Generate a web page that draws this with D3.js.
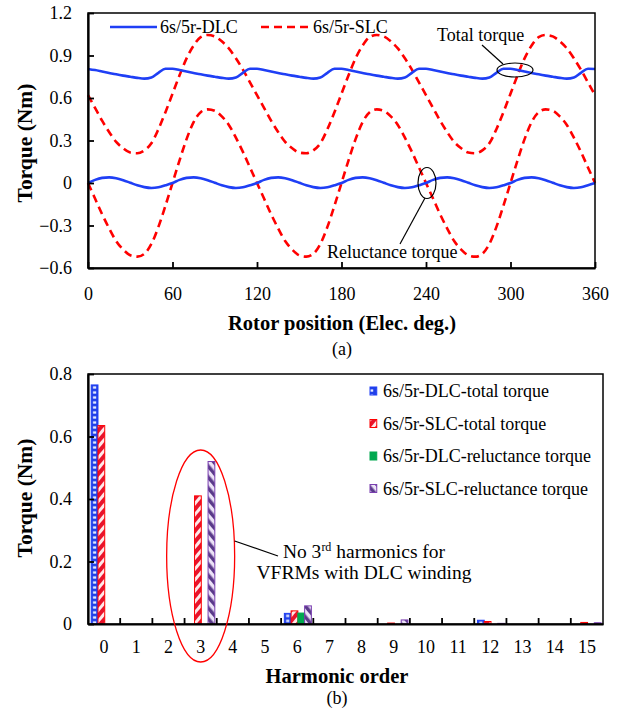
<!DOCTYPE html>
<html lang="en">
<head>
<meta charset="UTF-8">
<title>Torque waveforms and harmonics</title>
<script src="https://d3js.org/d3.v7.min.js"></script>
<style>
  body { margin: 0; background: #fff; }
  text { font-family: "Liberation Serif", "Times New Roman", serif; fill: #000; }
</style>
</head>
<body>
<svg id="chart" width="627" height="713"></svg>
<script>
// ---- (a) torque waveforms, sampled every 5 elec. deg ----
var angles = d3.range(0, 361, 5);

var dlcTotal = [
  0.805, 0.797, 0.787, 0.777, 0.767, 0.758, 0.750, 0.742, 0.737, 0.745, 0.778, 0.806,
  0.807, 0.797, 0.787, 0.777, 0.767, 0.758, 0.750, 0.742, 0.737, 0.745, 0.778, 0.806,
  0.807, 0.797, 0.787, 0.777, 0.767, 0.758, 0.750, 0.742, 0.737, 0.745, 0.778, 0.806,
  0.807, 0.797, 0.787, 0.777, 0.767, 0.758, 0.750, 0.742, 0.737, 0.745, 0.778, 0.806,
  0.807, 0.797, 0.787, 0.777, 0.767, 0.758, 0.750, 0.742, 0.737, 0.745, 0.778, 0.806,
  0.807, 0.797, 0.787, 0.777, 0.767, 0.758, 0.750, 0.742, 0.737, 0.745, 0.778, 0.806,
  0.805];
var dlcRel = [
  0, 0.022, 0.036, 0.040, 0.034, 0.020, 0.002, -0.016, -0.029, -0.035, -0.030, -0.016,
  0, 0.022, 0.036, 0.040, 0.034, 0.020, 0.002, -0.016, -0.029, -0.035, -0.030, -0.016,
  0, 0.022, 0.036, 0.040, 0.034, 0.020, 0.002, -0.016, -0.029, -0.035, -0.030, -0.016,
  0, 0.022, 0.036, 0.040, 0.034, 0.020, 0.002, -0.016, -0.029, -0.035, -0.030, -0.016,
  0, 0.022, 0.036, 0.040, 0.034, 0.020, 0.002, -0.016, -0.029, -0.035, -0.030, -0.016,
  0, 0.022, 0.036, 0.040, 0.034, 0.020, 0.002, -0.016, -0.029, -0.035, -0.030, -0.016,
  0];
var slcTotal = [
  0.62, 0.53, 0.44, 0.36, 0.29, 0.245, 0.215, 0.21, 0.23, 0.28, 0.38, 0.50,
  0.63, 0.76, 0.88, 0.97, 1.03, 1.045, 1.035, 1.00, 0.95, 0.88, 0.80, 0.71,
  0.62, 0.53, 0.44, 0.36, 0.29, 0.245, 0.215, 0.21, 0.23, 0.28, 0.38, 0.50,
  0.63, 0.76, 0.88, 0.97, 1.03, 1.045, 1.035, 1.00, 0.95, 0.88, 0.80, 0.71,
  0.62, 0.53, 0.44, 0.36, 0.29, 0.245, 0.215, 0.21, 0.23, 0.28, 0.38, 0.50,
  0.63, 0.76, 0.88, 0.97, 1.03, 1.045, 1.035, 1.00, 0.95, 0.88, 0.80, 0.71,
  0.62];
var slcRel = [
  0, -0.11, -0.22, -0.32, -0.41, -0.47, -0.51, -0.52, -0.50, -0.43, -0.31, -0.16,
  0, 0.16, 0.31, 0.43, 0.50, 0.52, 0.51, 0.47, 0.41, 0.32, 0.22, 0.11,
  0, -0.11, -0.22, -0.32, -0.41, -0.47, -0.51, -0.52, -0.50, -0.43, -0.31, -0.16,
  0, 0.16, 0.31, 0.43, 0.50, 0.52, 0.51, 0.47, 0.41, 0.32, 0.22, 0.11,
  0, -0.11, -0.22, -0.32, -0.41, -0.47, -0.51, -0.52, -0.50, -0.43, -0.31, -0.16,
  0, 0.16, 0.31, 0.43, 0.50, 0.52, 0.51, 0.47, 0.41, 0.32, 0.22, 0.11,
  0];

var xTicksA = [0, 60, 120, 180, 240, 300, 360];
var yTicksA = [-0.6, -0.3, 0, 0.3, 0.6, 0.9, 1.2];

// ---- (b) harmonic spectrum ----
var harmonics = d3.range(0, 16);
var barSeries = ["6s/5r-DLC-total torque", "6s/5r-SLC-total torque",
                 "6s/5r-DLC-reluctance torque", "6s/5r-SLC-reluctance torque"];
var hDlcTotal = [0.765, 0, 0, 0, 0, 0, 0.034, 0, 0, 0, 0, 0, 0.012, 0, 0, 0];
var hSlcTotal = [0.635, 0, 0, 0.41, 0, 0, 0.042, 0, 0, 0.003, 0, 0, 0.008, 0, 0, 0.005];
var hDlcRel   = [0, 0, 0, 0, 0, 0, 0.035, 0, 0, 0, 0, 0, 0, 0, 0, 0];
var hSlcRel   = [0, 0, 0, 0.52, 0, 0, 0.058, 0, 0, 0.013, 0, 0, 0.002, 0, 0, 0.004];
var yTicksB = [0, 0.2, 0.4, 0.6, 0.8];

var blue = "#1f3ff5", red = "#ff0000", green = "#00a84f", purple = "#7a3fb0";

var svg = d3.select("#chart");
var defs = svg.append("defs");

function styleAxis(g) {
  g.select(".domain").attr("stroke-width", 2.2);
  g.selectAll("line").attr("stroke-width", 1.8);
  g.selectAll("text").attr("font-size", 18).attr("font-family", "Liberation Serif");
}

// ================= chart (a) =================
var xA = d3.scaleLinear().domain([0, 360]).range([88, 595]);
var yA = d3.scaleLinear().domain([-0.6, 1.2]).range([268, 13]);

var gA = svg.append("g");

var line = function (vals) {
  return d3.line()
    .x(function (d, i) { return xA(angles[i]); })
    .y(function (d) { return yA(d); })
    .curve(d3.curveMonotoneX)(vals);
};

[slcTotal, slcRel].forEach(function (s) {
  gA.append("path").attr("d", line(s)).attr("fill", "none")
    .attr("stroke", red).attr("stroke-width", 2.6).attr("stroke-dasharray", "8,5");
});
[dlcTotal, dlcRel].forEach(function (s) {
  gA.append("path").attr("d", line(s)).attr("fill", "none")
    .attr("stroke", blue).attr("stroke-width", 2.6);
});

// frame + axes
gA.append("rect").attr("x", 88).attr("y", 13).attr("width", 507).attr("height", 255)
  .attr("fill", "none").attr("stroke", "#000").attr("stroke-width", 1.5);
gA.append("g").attr("transform", "translate(0,268)")
  .call(d3.axisBottom(xA).tickValues(xTicksA).tickSizeInner(-6).tickSizeOuter(0).tickPadding(19))
  .call(styleAxis);
gA.append("g").attr("transform", "translate(88,0)")
  .call(d3.axisLeft(yA).tickValues(yTicksA).tickSizeInner(-6).tickSizeOuter(0).tickPadding(16)
    .tickFormat(function (d) { return d3.format("")(+d.toFixed(1)); }))
  .call(styleAxis);

// legend (a)
gA.append("line").attr("x1", 110).attr("x2", 157).attr("y1", 27).attr("y2", 27)
  .attr("stroke", blue).attr("stroke-width", 2.6);
gA.append("text").attr("x", 160).attr("y", 33).attr("font-size", 18).text("6s/5r-DLC");
gA.append("line").attr("x1", 261).attr("x2", 310).attr("y1", 27).attr("y2", 27)
  .attr("stroke", red).attr("stroke-width", 2.6).attr("stroke-dasharray", "8,5");
gA.append("text").attr("x", 313).attr("y", 33).attr("font-size", 18).text("6s/5r-SLC");

// annotations (a)
gA.append("ellipse").attr("cx", 515).attr("cy", 70).attr("rx", 18).attr("ry", 7)
  .attr("fill", "none").attr("stroke", "#000").attr("stroke-width", 1.2);
gA.append("line").attr("x1", 482).attr("y1", 45).attr("x2", 503).attr("y2", 64)
  .attr("stroke", "#000").attr("stroke-width", 1.2);
gA.append("text").attr("x", 437).attr("y", 41).attr("font-size", 18).text("Total torque");

gA.append("ellipse").attr("cx", 427).attr("cy", 183).attr("rx", 9).attr("ry", 15.5)
  .attr("fill", "none").attr("stroke", "#000").attr("stroke-width", 1.2);
gA.append("line").attr("x1", 425).attr("y1", 198).attr("x2", 400).attr("y2", 244)
  .attr("stroke", "#000").attr("stroke-width", 1.2);
gA.append("text").attr("x", 327).attr("y", 258).attr("font-size", 18).text("Reluctance torque");

gA.append("text").attr("x", 342).attr("y", 330).attr("text-anchor", "middle")
  .attr("font-size", 20.5).attr("font-weight", "bold").text("Rotor position (Elec. deg.)");
gA.append("text").attr("x", 342).attr("y", 355).attr("text-anchor", "middle")
  .attr("font-size", 18).text("(a)");
gA.append("text").attr("transform", "translate(32,143) rotate(-90)").attr("text-anchor", "middle")
  .attr("font-size", 21.5).attr("font-weight", "bold").text("Torque (Nm)");

// ================= chart (b) =================
var x0 = d3.scaleBand().domain(harmonics).range([88, 603]);
var x1 = d3.scaleBand().domain(barSeries)
  .range([x0.bandwidth() * 0.1, x0.bandwidth() * 0.94]);
var yB = d3.scaleLinear().domain([0, 0.8]).range([624, 374]);

var seriesVals = [hDlcTotal, hSlcTotal, hDlcRel, hSlcRel];
var seriesStroke = [blue, red, green, purple];

// pattern builders, one per bar so the motif lines up with the bar edge
function makePattern(id, si, x, y) {
  var bw = x1.bandwidth();
  var p;
  if (si === 0) {
    p = defs.append("pattern").attr("id", id).attr("patternUnits", "userSpaceOnUse")
      .attr("x", x).attr("y", y).attr("width", bw).attr("height", 5);
    p.append("rect").attr("width", bw).attr("height", 5).attr("fill", "#2040e8");
    p.append("rect").attr("x", bw / 2 - 1.6).attr("y", 1.4).attr("width", 3.2).attr("height", 2.3)
      .attr("fill", "#e6ecff");
  } else if (si === 1) {
    p = defs.append("pattern").attr("id", id).attr("patternUnits", "userSpaceOnUse")
      .attr("x", x).attr("y", y).attr("width", 7).attr("height", 7)
      .attr("patternTransform", "rotate(40)");
    p.append("rect").attr("width", 7).attr("height", 7).attr("fill", "#ffe9e9");
    p.append("rect").attr("width", 4).attr("height", 7).attr("fill", "#e8132b");
  } else if (si === 2) {
    p = defs.append("pattern").attr("id", id).attr("patternUnits", "userSpaceOnUse")
      .attr("width", 4).attr("height", 4);
    p.append("rect").attr("width", 4).attr("height", 4).attr("fill", green);
  } else {
    p = defs.append("pattern").attr("id", id).attr("patternUnits", "userSpaceOnUse")
      .attr("x", x).attr("y", y).attr("width", 7).attr("height", 7)
      .attr("patternTransform", "rotate(-40)");
    p.append("rect").attr("width", 7).attr("height", 7).attr("fill", "#ece2f7");
    p.append("rect").attr("width", 3.5).attr("height", 7).attr("fill", "#5a3a8a");
  }
}

var gB = svg.append("g");
var bars = [];
harmonics.forEach(function (h, i) {
  barSeries.forEach(function (s, si) {
    bars.push({ h: h, s: s, si: si, v: seriesVals[si][i] });
  });
});

gB.selectAll("rect.bar")
  .data(bars.filter(function (d) { return d.v > 0; }))
  .join("rect")
  .attr("class", "bar")
  .attr("x", function (d) { return x0(d.h) + x1(d.s); })
  .attr("y", function (d) { return yB(d.v); })
  .attr("width", x1.bandwidth())
  .attr("height", function (d) { return yB(0) - yB(d.v); })
  .attr("fill", function (d) {
    var id = "pat-" + d.si + "-" + d.h;
    makePattern(id, d.si, x0(d.h) + x1(d.s), yB(d.v));
    return "url(#" + id + ")";
  })
  .attr("stroke", function (d) { return seriesStroke[d.si]; })
  .attr("stroke-width", 1);

gB.append("rect").attr("x", 88).attr("y", 374).attr("width", 515).attr("height", 250)
  .attr("fill", "none").attr("stroke", "#000").attr("stroke-width", 1.5);

// x ticks sit on the band edges, labels in the band centres
var bandEdges = harmonics.slice(1).map(function (h) { return x0(h); });
gB.selectAll("line.xt").data(bandEdges).join("line").attr("class", "xt")
  .attr("x1", function (d) { return d; }).attr("x2", function (d) { return d; })
  .attr("y1", 624).attr("y2", 618).attr("stroke", "#000").attr("stroke-width", 1.8);
gB.append("g").attr("transform", "translate(0,624)")
  .call(d3.axisBottom(x0).tickSize(0).tickPadding(16))
  .call(styleAxis);
gB.append("g").attr("transform", "translate(88,0)")
  .call(d3.axisLeft(yB).tickValues(yTicksB).tickSizeInner(-6).tickSizeOuter(0).tickPadding(16)
    .tickFormat(function (d) { return d === 0 ? "0" : d3.format(".1f")(d); }))
  .call(styleAxis);

// legend (b)
var legB = gB.selectAll("g.leg").data(barSeries).join("g").attr("class", "leg")
  .attr("transform", function (d, i) { return "translate(370," + (391 + i * 32.5) + ")"; });
legB.append("rect").attr("x", 0).attr("y", -4).attr("width", x1.bandwidth()).attr("height", 8)
  .attr("fill", function (d, i) {
    var id = "leg-pat-" + i;
    makePattern(id, i, 370, 387 + i * 32.5);
    return "url(#" + id + ")";
  })
  .attr("stroke", function (d, i) { return seriesStroke[i]; }).attr("stroke-width", 1);
legB.append("text").attr("x", 13).attr("y", 6).attr("font-size", 18).text(function (d) { return d; });

// annotation (b): ellipse round the 3rd-harmonic group
var c3 = x0(3) + x0.bandwidth() / 2;
gB.append("ellipse").attr("cx", c3).attr("cy", 556).attr("rx", 34).attr("ry", 106)
  .attr("fill", "none").attr("stroke", red).attr("stroke-width", 1.3);
gB.append("line").attr("x1", c3 + 34).attr("y1", 541).attr("x2", 278).attr("y2", 556)
  .attr("stroke", "#000").attr("stroke-width", 1.2);
var note = gB.append("text").attr("x", 364).attr("y", 558).attr("text-anchor", "middle").attr("font-size", 19.5);
note.append("tspan").text("No 3");
note.append("tspan").attr("font-size", 12).attr("dy", -7).text("rd");
note.append("tspan").attr("dy", 7).text(" harmonics for");
gB.append("text").attr("x", 364).attr("y", 579).attr("text-anchor", "middle").attr("font-size", 19.5)
  .text("VFRMs with DLC winding");

gB.append("text").attr("x", 337).attr("y", 683).attr("text-anchor", "middle")
  .attr("font-size", 20.5).attr("font-weight", "bold").text("Harmonic order");
gB.append("text").attr("x", 337).attr("y", 704).attr("text-anchor", "middle")
  .attr("font-size", 18).text("(b)");
gB.append("text").attr("transform", "translate(32,498) rotate(-90)").attr("text-anchor", "middle")
  .attr("font-size", 21.5).attr("font-weight", "bold").text("Torque (Nm)");
</script>
</body>
</html>
